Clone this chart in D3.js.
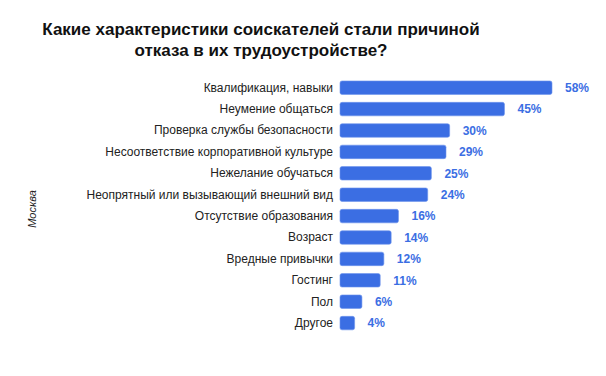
<!DOCTYPE html>
<html>
<head>
<meta charset="utf-8">
<script src="https://cdn.jsdelivr.net/npm/d3@7"></script>
<style>
  body { margin: 0; background: #fff; }
  text { font-family: "Liberation Sans", Arial, sans-serif; }
</style>
</head>
<body>
<svg width="606" height="376"></svg>
<script>
const titleLines = ['Какие характеристики соискателей стали причиной', 'отказа в их трудоустройстве?'];
const axisTitle = 'Москва';
const categories = [
  'Квалификация, навыки',
  'Неумение общаться',
  'Проверка службы безопасности',
  'Несоответствие корпоративной культуре',
  'Нежелание обучаться',
  'Неопрятный или вызывающий внешний вид',
  'Отсутствие образования',
  'Возраст',
  'Вредные привычки',
  'Гостинг',
  'Пол',
  'Другое'
];
const values = [58, 45, 30, 29, 25, 24, 16, 14, 12, 11, 6, 4];

(function (d3) {
  'use strict';

  const svg = d3.select('svg');
  const margin = { top: 77, left: 340 };
  const barColor = '#3b6ee3';

  const data = categories.map((c, i) => ({ name: c, value: values[i] }));

  const xScale = d3.scaleLinear()
    .domain([0, 58])
    .range([0, 212]);

  const yScale = d3.scaleBand()
    .domain(categories)
    .range([0, 12 * 21.4])
    .paddingInner(0.37)
    .paddingOuter(0.185);

  // title
  svg.append('text')
    .attr('x', 261)
    .attr('y', 35)
    .attr('text-anchor', 'middle')
    .attr('font-size', 17)
    .attr('font-weight', 'bold')
    .attr('fill', '#111')
    .selectAll('tspan')
    .data(titleLines)
    .enter().append('tspan')
      .attr('x', 261)
      .attr('dy', (d, i) => i === 0 ? 0 : 20.5)
      .text(d => d);

  // rotated axis title
  svg.append('text')
    .attr('transform', 'translate(36,209) rotate(-90)')
    .attr('text-anchor', 'middle')
    .attr('font-size', 11)
    .attr('font-style', 'italic')
    .attr('fill', '#222')
    .text(axisTitle);

  const g = svg.append('g')
    .attr('transform', `translate(${margin.left},${margin.top})`);

  const yAxis = d3.axisLeft(yScale)
    .tickSize(0)
    .tickPadding(7);

  g.append('g')
    .call(yAxis)
    .call(sel => sel.select('.domain').remove())
    .selectAll('text')
      .attr('font-family', '"Liberation Sans", Arial, sans-serif')
      .attr('font-size', 12)
      .attr('fill', '#222');

  g.selectAll('rect.bar').data(data)
    .enter().append('rect')
      .attr('class', 'bar')
      .attr('x', 0)
      .attr('y', d => yScale(d.name))
      .attr('width', d => xScale(d.value))
      .attr('height', yScale.bandwidth())
      .attr('rx', 2)
      .attr('fill', barColor)
      .attr('stroke', '#6f95ec')
      .attr('stroke-width', 0.6);

  g.selectAll('text.value').data(data)
    .enter().append('text')
      .attr('class', 'value')
      .attr('x', d => xScale(d.value) + 13)
      .attr('y', d => yScale(d.name) + yScale.bandwidth() / 2)
      .attr('dy', '0.35em')
      .attr('font-size', 12)
      .attr('font-weight', 'bold')
      .attr('fill', barColor)
      .text(d => d.value + '%');

}(d3));
</script>
</body>
</html>
